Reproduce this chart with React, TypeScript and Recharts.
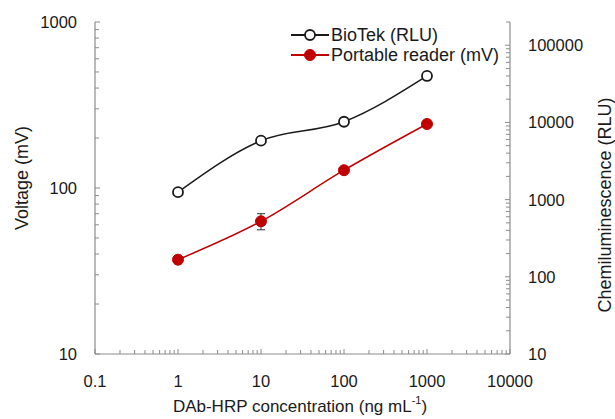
import React from 'react';
import { LineChart, Line, XAxis, YAxis, ErrorBar, Legend } from 'recharts';

// ---- data ----
const concentrations = [1, 10, 100, 1000];
const biotekRLU = [1250, 5800, 10200, 40000];
const portableMV = [37, 63, 128, 243];
const portableErr = [2, 7, 3, 3];

// ---- tick labels ----
const xMajor = [0.1, 1, 10, 100, 1000, 10000];
const leftMajor = [10, 100, 1000];
const rightMajor = [10, 100, 1000, 10000, 100000];

const xDomain = [0.1, 10000];
const leftDomain = [10, 1000];
const rightDomain = [10, 200000];

const data = concentrations.map((c, i) => ({
  conc: c,
  biotek: biotekRLU[i],
  portable: portableMV[i],
  err: portableErr[i],
}));

const FONT = '"Liberation Sans", Arial, sans-serif';
const TEXT = '#1a1a1a';
const AXIS = '#8c8c8c';
const RED = '#c00000';
const BLACK = '#1a1a1a';
const TICK_FS = 16.5;
const TITLE_FS = 17;
const VTITLE_FS = 18;
const LEGEND_FS = 18;

function logTicks(min: number, max: number): number[] {
  const out: number[] = [];
  for (let d = min; d < max * 1.0001; d *= 10) {
    for (let k = 1; k <= 9; k++) {
      const v = +(d * k).toPrecision(6);
      if (v <= max * 1.0001) out.push(v);
    }
  }
  return out;
}

const findMajor = (v: number, majors: number[]) =>
  majors.find((m) => Math.abs(Math.log10(m) - Math.log10(v)) < 1e-6);

const XTick = (props: any) => {
  const { x, y, payload } = props;
  const m = findMajor(payload.value, xMajor);
  return (
    <g>
      <line x1={x} x2={x} y1={y} y2={y - (m !== undefined ? 5 : 4)} stroke={AXIS} strokeWidth={1} />
      {m !== undefined && (
        <text x={x} y={y + 27} textAnchor="middle" dominantBaseline="central" fontFamily={FONT} fontSize={TICK_FS} fill={TEXT}>
          {String(m)}
        </text>
      )}
    </g>
  );
};

const LeftTick = (props: any) => {
  const { x, y, payload } = props;
  const m = findMajor(payload.value, leftMajor);
  return (
    <g>
      <line x1={x} x2={x + (m !== undefined ? 5 : 4)} y1={y} y2={y} stroke={AXIS} strokeWidth={1} />
      {m !== undefined && (
        <text x={x - 18} y={y} textAnchor="end" dominantBaseline="central" fontFamily={FONT} fontSize={TICK_FS} fill={TEXT}>
          {String(m)}
        </text>
      )}
    </g>
  );
};

const RightTick = (props: any) => {
  const { x, y, payload } = props;
  const m = findMajor(payload.value, rightMajor);
  return (
    <g>
      <line x1={x} x2={x - (m !== undefined ? 5 : 4)} y1={y} y2={y} stroke={AXIS} strokeWidth={1} />
      {m !== undefined && (
        <text x={x + 18} y={y} textAnchor="start" dominantBaseline="central" fontFamily={FONT} fontSize={TICK_FS} fill={TEXT}>
          {String(m)}
        </text>
      )}
    </g>
  );
};

const legendItems = [
  { label: 'BioTek (RLU)', color: BLACK, filled: false },
  { label: 'Portable reader (mV)', color: RED, filled: true },
];

const LegendContent = () => (
  <div style={{ fontFamily: FONT, fontSize: LEGEND_FS, color: TEXT }}>
    {legendItems.map((it) => (
      <div key={it.label} style={{ display: 'flex', alignItems: 'center', height: 20 }}>
        <svg width={38} height={20} style={{ display: 'block' }}>
          <line x1={0} x2={38} y1={10} y2={10} stroke={it.color} strokeWidth={1.8} />
          <circle
            cx={19}
            cy={10}
            r={it.filled ? 5.5 : 5}
            fill={it.filled ? it.color : '#fff'}
            stroke={it.color}
            strokeWidth={it.filled ? 1 : 1.8}
          />
        </svg>
        <span style={{ marginLeft: 2, whiteSpace: 'nowrap' }}>{it.label}</span>
      </div>
    ))}
  </div>
);

export default function App() {
  return (
    <div style={{ position: 'absolute', left: 0, top: 0, width: 615, height: 419, background: '#fff' }}>
      <LineChart width={615} height={419} data={data} margin={{ top: 22, right: 0, bottom: 0, left: 0 }}>
        <XAxis
          dataKey="conc"
          type="number"
          scale="log"
          domain={xDomain}
          ticks={logTicks(xDomain[0], xDomain[1])}
          interval={0}
          allowDataOverflow
          height={65}
          tickSize={0}
          tickMargin={0}
          tickLine={false}
          axisLine={{ stroke: AXIS, strokeWidth: 1.2 }}
          tick={<XTick />}
          label={{
            content: () => (
              <text x={300} y={406} textAnchor="middle" dominantBaseline="central" fontFamily={FONT} fontSize={TITLE_FS} fill={TEXT}>
                DAb-HRP concentration (ng mL
                <tspan dy={-6} fontSize={11}>-1</tspan>
                <tspan dy={6}>)</tspan>
              </text>
            ),
          }}
        />
        <XAxis
          xAxisId="top"
          orientation="top"
          dataKey="conc"
          type="number"
          scale="log"
          domain={xDomain}
          allowDataOverflow
          height={0}
          tick={false}
          tickLine={false}
          axisLine={{ stroke: AXIS, strokeWidth: 1.2 }}
        />
        <YAxis
          yAxisId="left"
          orientation="left"
          type="number"
          scale="log"
          domain={leftDomain}
          ticks={logTicks(leftDomain[0], leftDomain[1])}
          interval={0}
          allowDataOverflow
          width={95}
          tickSize={0}
          tickMargin={0}
          tickLine={false}
          axisLine={{ stroke: AXIS, strokeWidth: 1.2 }}
          tick={<LeftTick />}
          label={{
            content: () => (
              <text x={22} y={178} transform="rotate(-90 22 178)" textAnchor="middle" dominantBaseline="central" fontFamily={FONT} fontSize={VTITLE_FS} fill={TEXT}>
                Voltage (mV)
              </text>
            ),
          }}
        />
        <YAxis
          yAxisId="right"
          orientation="right"
          type="number"
          scale="log"
          domain={rightDomain}
          ticks={logTicks(rightDomain[0], rightDomain[1])}
          interval={0}
          allowDataOverflow
          width={105}
          tickSize={0}
          tickMargin={0}
          tickLine={false}
          axisLine={{ stroke: AXIS, strokeWidth: 1.2 }}
          tick={<RightTick />}
          label={{
            content: () => (
              <text x={605} y={205} transform="rotate(-90 605 205)" textAnchor="middle" dominantBaseline="central" fontFamily={FONT} fontSize={VTITLE_FS} fill={TEXT}>
                Chemiluminescence (RLU)
              </text>
            ),
          }}
        />
        <Legend
          layout="vertical"
          align="center"
          verticalAlign="middle"
          content={<LegendContent />}
          wrapperStyle={{ top: 25, left: 291, width: 230, height: 40 }}
        />
        <Line
          yAxisId="right"
          dataKey="biotek"
          type="monotone"
          stroke={BLACK}
          strokeWidth={1.5}
          dot={{ r: 5, fill: '#fff', stroke: BLACK, strokeWidth: 1.8 }}
          activeDot={false}
          isAnimationActive={false}
        />
        <Line
          yAxisId="left"
          dataKey="portable"
          type="monotone"
          stroke={RED}
          strokeWidth={1.5}
          dot={{ r: 5.5, fill: RED, stroke: RED, strokeWidth: 1 }}
          activeDot={false}
          isAnimationActive={false}
        >
          <ErrorBar dataKey="err" direction="y" width={4} stroke="#333" strokeWidth={1} />
        </Line>
      </LineChart>
    </div>
  );
}
